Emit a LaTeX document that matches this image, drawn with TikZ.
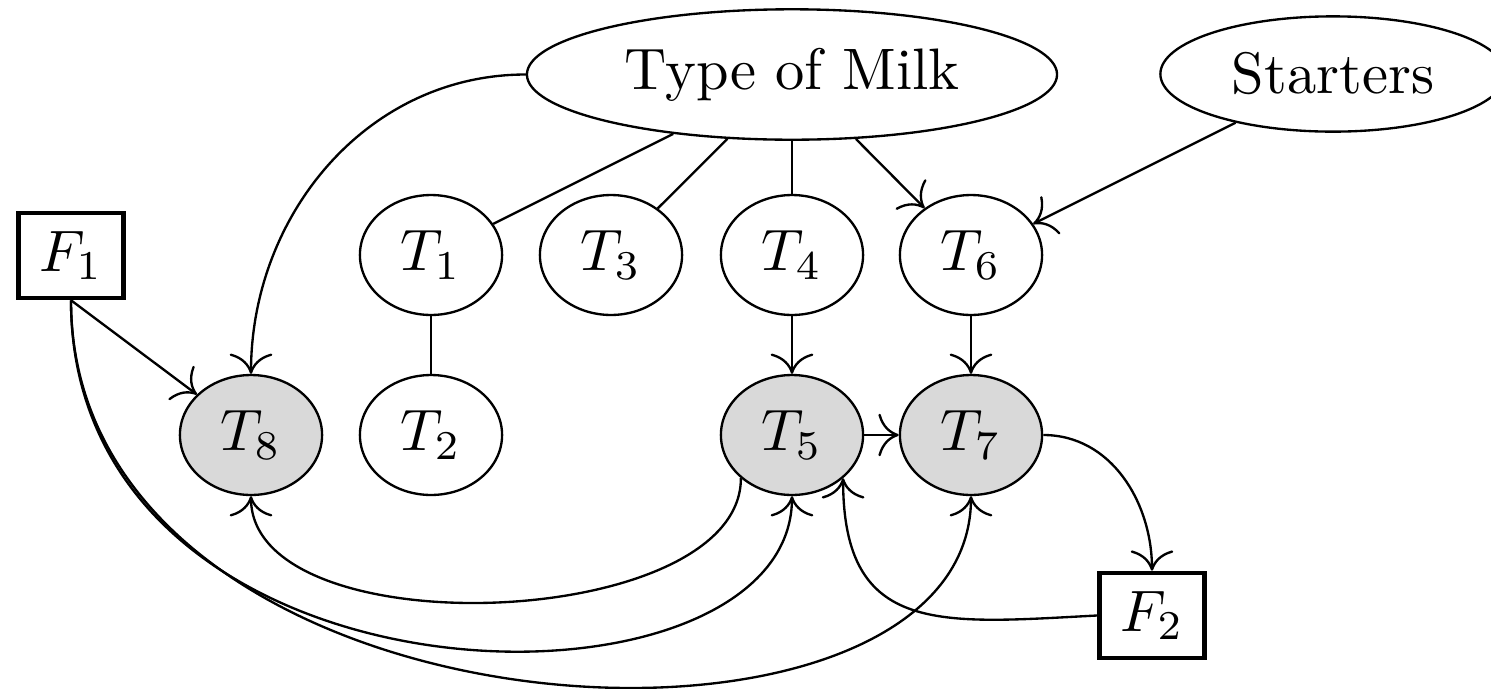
\documentclass[tikz,border=0pt]{standalone}
\usetikzlibrary{shapes.geometric,arrows.meta}
\begin{document}
\begin{tikzpicture}[x=0.1709pt,y=-0.1709pt,
  bignode/.style={draw,thin,ellipse,inner sep=3.33pt},
  tnode/.style={draw,thin,ellipse,minimum width=24.3pt,minimum height=20.5pt,inner sep=0pt},
  obsnode/.style={tnode,fill=gray!30},
  fbox/.style={draw,thick,rectangle,minimum width=18pt,minimum height=14.5pt,inner sep=0pt},
  conn/.style={thin},
  arr/.style={thin,-{To[scale=1.4]}}]
\useasboundingbox (0,0) rectangle (1491,689);
\clip (0,0) rectangle (1491,689);
\node[bignode,minimum width=90.6pt] (tm) at (792,74.5) {Type of Milk};
\node[bignode,minimum width=59pt] (st) at (1333,74) {Starters};
\node[fbox] (f1) at (71,255.5) {$F_1$};
\node[fbox] (f2) at (1152,615.5) {$F_2$};
\node[tnode] (t1) at (431,255) {$T_1$};
\node[tnode] (t3) at (611,255) {$T_3$};
\node[tnode] (t4) at (792,255) {$T_4$};
\node[tnode] (t6) at (971,255) {$T_6$};
\node[obsnode] (t8) at (251,435) {$T_8$};
\node[tnode] (t2) at (431,435) {$T_2$};
\node[obsnode] (t5) at (792,435) {$T_5$};
\node[obsnode] (t7) at (971,435) {$T_7$};

\draw[arr] (tm.west) to[out=180,in=90] (t8.north);
\draw[conn] (tm) -- (t1);
\draw[conn] (tm) -- (t3);
\draw[conn] (tm) -- (t4);
\draw[arr] (tm) -- (t6);
\draw[arr] (st) -- (t6);
\draw[conn] (t1) -- (t2);
\draw[arr] (t4) -- (t5);
\draw[arr] (t6) -- (t7);
\draw[arr] (t5) -- (t7);
\draw[arr] (f1.south) -- (t8);
\draw[arr] (f1.south) .. controls ([yshift=-72.4pt]f1.south) and ([yshift=-40.2pt]t5.south) .. (t5.south);
\draw[arr] (f1.south) .. controls ([yshift=-77pt]f1.south) and ([yshift=-51.5pt]t7.south) .. (t7.south);
\draw[arr] (t5.south west) to[out=-90,in=-90,looseness=0.8] (t8.south);
\draw[arr] (t7.east) to[out=0,in=90] (f2.north);
\draw[arr] (f2.west) to[out=183,in=-90,looseness=1.4] (t5.south east);
\end{tikzpicture}
\end{document}
